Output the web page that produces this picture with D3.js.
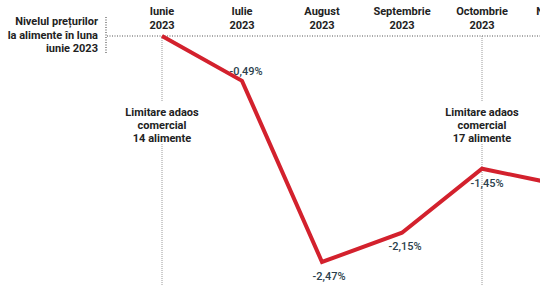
<!DOCTYPE html>
<meta charset="utf-8">
<style>
body { margin: 0; background: #fff; font-family: Roboto, "Noto Sans", sans-serif; }
svg { display: block; overflow: hidden; }
.month text { font-size: 11px; font-weight: 700; fill: #222; }
.note text { font-size: 11px; font-weight: 700; fill: #222; }
.val { font-size: 11px; font-weight: 500; fill: #2b3f4d; }
</style>
<body>
<svg width="540" height="304"></svg>
<script src="https://d3js.org/d3.v7.min.js"></script>
<script>

// food price level vs. June 2023 (%)
var months = ["Iunie", "Iulie", "August", "Septembrie", "Octombrie", "Noiembrie"];
var years = ["2023", "2023", "2023", "2023", "2023", "2023"];
var values = [0, -0.49, -2.47, -2.15, -1.45, -1.63];
var labels = ["", "-0,49%", "-2,47%", "-2,15%", "-1,45%", ""];
var notes = [
  {month: "Iunie", lines: ["Limitare adaos", "comercial", "14 alimente"]},
  {month: "Octombrie", lines: ["Limitare adaos", "comercial", "17 alimente"]}
];
var refLabel = ["Nivelul prețurilor", "la alimente în luna", "iunie 2023"];

var svg = d3.select("svg");

var x = d3.scalePoint().domain(months).range([162, 562]);
var y = d3.scaleLinear().domain([0, -2.47]).range([36, 262]);

// reference line (level of June)
svg.append("line")
    .attr("x1", 107).attr("x2", 540)
    .attr("y1", y(0)).attr("y2", y(0))
    .attr("stroke", "#555").attr("stroke-width", 1.2)
    .attr("stroke-dasharray", "1,1.5");

svg.append("line")
    .attr("x1", 106).attr("x2", 106)
    .attr("y1", 17).attr("y2", 53)
    .attr("stroke", "#555").attr("stroke-width", 1.2)
    .attr("stroke-dasharray", "1,1.5");

svg.append("text")
    .attr("text-anchor", "end")
    .style("font-size", "11px").style("font-weight", 700).style("fill", "#222")
  .selectAll("tspan")
  .data(refLabel)
  .enter().append("tspan")
    .attr("x", 98)
    .attr("y", function(d, i) { return 25 + i * 13.5; })
    .text(function(d) { return d; });

// month labels
var m = svg.append("g").attr("class", "month")
  .selectAll("text")
  .data(months)
  .enter().append("text")
    .attr("text-anchor", "middle");
m.append("tspan")
    .attr("x", function(d) { return x(d); })
    .attr("y", 15)
    .text(function(d) { return d; });
m.append("tspan")
    .attr("x", function(d) { return x(d); })
    .attr("y", 29)
    .text(function(d, i) { return years[i]; });

// annotations
var n = svg.append("g").attr("class", "note")
  .selectAll("g")
  .data(notes)
  .enter().append("g");

n.append("line")
    .attr("x1", function(d) { return x(d.month); })
    .attr("x2", function(d) { return x(d.month); })
    .attr("y1", y(0)).attr("y2", 286)
    .attr("stroke", "#9a9a9a").attr("stroke-width", 1)
    .attr("stroke-dasharray", "1,1");

n.append("rect")
    .attr("x", function(d) { return x(d.month) - 42; })
    .attr("y", 102)
    .attr("width", 84).attr("height", 42)
    .attr("fill", "#fff");

n.append("text")
    .attr("text-anchor", "middle")
  .selectAll("tspan")
  .data(function(d) { return d.lines.map(function(l) { return {l: l, x: x(d.month)}; }); })
  .enter().append("tspan")
    .attr("x", function(d) { return d.x; })
    .attr("y", function(d, i) { return 116 + i * 13; })
    .text(function(d) { return d.l; });

// line
var line = d3.line()
    .x(function(d, i) { return x(months[i]); })
    .y(function(d) { return y(d); });

svg.append("path")
    .datum(values)
    .attr("fill", "none")
    .attr("stroke", "#d3212d")
    .attr("stroke-width", 4)
    .attr("stroke-linejoin", "miter")
    .attr("d", line);

// value labels
var dx = [0, 4, 7, 3, 5, 5];
var dy = [0, -6, 18, 17, 18, 18];
svg.selectAll(".val")
  .data(values)
  .enter().append("text")
    .attr("class", "val")
    .attr("text-anchor", "middle")
    .attr("x", function(d, i) { return x(months[i]) + dx[i]; })
    .attr("y", function(d, i) { return y(d) + dy[i]; })
    .text(function(d, i) { return labels[i]; });

</script>
</body>
